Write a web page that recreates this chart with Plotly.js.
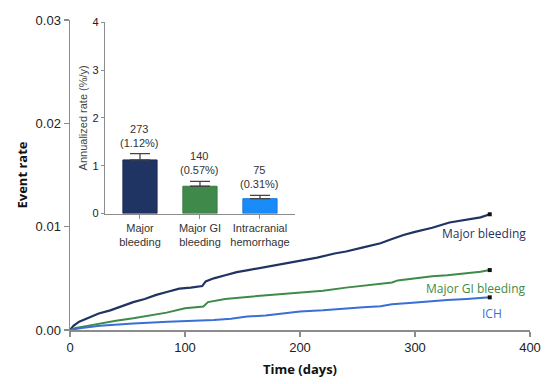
<!DOCTYPE html>
<html>
<head>
<meta charset="utf-8">
<script src="https://cdn.plot.ly/plotly-3.0.1.min.js"></script>
<style>html,body{margin:0;padding:0;background:#fff;}#chart{width:550px;height:384px;}</style>
</head>
<body>
<div id="chart"></div>
<script>
// Cumulative event rate curves
const majorDays = [0,3,8,15,25,35,45,55,65,75,85,95,105,115,118,125,135,145,155,165,175,185,200,215,230,240,255,270,280,290,300,315,330,345,357,365];
const majorRate = [0,0.0004,0.0008,0.0011,0.0016,0.0019,0.0023,0.0027,0.0030,0.0034,0.0037,0.0040,0.0041,0.00425,0.0047,0.0050,0.0053,0.0056,0.0058,0.0060,0.0062,0.0064,0.0067,0.0070,0.0074,0.0076,0.0080,0.0084,0.0088,0.0092,0.0095,0.0099,0.0104,0.0107,0.0109,0.0112];
const giDays = [0,5,15,26,40,55,70,84,100,113,116,120,135,154,175,200,220,240,255,270,280,285,300,315,328,345,357,365];
const giRate = [0,0.0002,0.0004,0.00064,0.0009,0.00113,0.0014,0.00168,0.0021,0.00222,0.00228,0.0027,0.0030,0.0032,0.0034,0.0036,0.0038,0.0041,0.0043,0.00445,0.0046,0.0048,0.0050,0.0052,0.0053,0.0055,0.00563,0.0058];
const ichDays = [0,10,26,55,85,113,125,140,154,170,183,200,220,240,255,270,280,298,315,328,345,357,365];
const ichRate = [0,0.0002,0.0004,0.00064,0.0008,0.00087,0.00097,0.0011,0.0013,0.0014,0.00155,0.0018,0.0019,0.0021,0.0022,0.0023,0.0025,0.00264,0.0028,0.0029,0.0030,0.00306,0.00316];

// Inset: annualized rates
const barCats = ["Major<br>bleeding","Major GI<br>bleeding","Intracranial<br>hemorrhage"];
const barRate = [1.12,0.57,0.31];
const barErr = [0.13,0.10,0.07];
const barCount = [273,140,75];
const barPct = ["(1.12%)","(0.57%)","(0.31%)"];

const cNavy = "#1f3463", cGreen = "#3e8b48", cBlue = "#3a6fd4", cBarBlue = "#1a8cfa";

const last = a => a[a.length-1];

const traces = [
  {x: majorDays, y: majorRate, type: "scatter", mode: "lines", line: {color: cNavy, width: 2.2}, hoverinfo: "skip"},
  {x: giDays, y: giRate, type: "scatter", mode: "lines", line: {color: cGreen, width: 2}, hoverinfo: "skip"},
  {x: ichDays, y: ichRate, type: "scatter", mode: "lines", line: {color: cBlue, width: 2}, hoverinfo: "skip"},
  {x: [last(majorDays), last(giDays), last(ichDays)], y: [last(majorRate), last(giRate), last(ichRate)],
   type: "scatter", mode: "markers", marker: {color: "#111", size: 4, symbol: "square"}, hoverinfo: "skip"},
  {x: barCats, y: barRate, type: "bar", xaxis: "x2", yaxis: "y2", width: 0.57,
   marker: {color: [cNavy, "#3f8a4b", cBarBlue], line: {color: ["#1a2b52","#357a40","#1479e0"], width: 1}},
   error_y: {type: "data", array: barErr, symmetric: false, arrayminus: [0,0,0], color: "#444", thickness: 1.3, width: 10},
   hoverinfo: "skip"}
];

const annotations = [
  {x: 398, y: 0.00937, xref: "x", yref: "y", text: "Major bleeding", showarrow: false, xanchor: "right", yanchor: "middle", font: {family: "Open Sans, sans-serif", size: 12, color: cNavy}},
  {x: 398, y: 0.00406, xref: "x", yref: "y", text: "Major GI bleeding", showarrow: false, xanchor: "right", yanchor: "middle", font: {family: "Open Sans, sans-serif", size: 12, color: cGreen}},
  {x: 367, y: 0.00164, xref: "x", yref: "y", text: "ICH", showarrow: false, xanchor: "center", yanchor: "middle", font: {family: "Open Sans, sans-serif", size: 12, color: cBlue}}
];
barCats.forEach((c, i) => {
  annotations.push({x: c, y: barRate[i] + barErr[i], xref: "x2", yref: "y2", text: barCount[i] + "<br>" + barPct[i],
    showarrow: false, xanchor: "center", yanchor: "bottom", yshift: 3,
    font: {family: "Liberation Sans, Arial, sans-serif", size: 11, color: "#333"}});
});

const layout = {
  width: 550, height: 384,
  margin: {l: 70, r: 20, t: 20, b: 54},
  paper_bgcolor: "#fff", plot_bgcolor: "rgba(0,0,0,0)",
  showlegend: false,
  xaxis: {range: [0, 400], tickvals: [0,100,200,300,400], showgrid: false, zeroline: false,
    showline: true, linecolor: "#8c8c8c", linewidth: 1.5, ticks: "outside", ticklen: 5, tickcolor: "#8c8c8c", tickwidth: 1.5,
    tickfont: {family: "Liberation Sans, Arial, sans-serif", size: 13, color: "#222"},
    title: {text: "Time (days)", font: {family: "Open Sans, sans-serif", size: 13, color: "#111", weight: "bold"}, standoff: 11}},
  yaxis: {range: [0, 0.03], tickvals: [0, 0.01, 0.02, 0.03], ticktext: ["0.00","0.01","0.02","0.03"], showgrid: false, zeroline: false,
    showline: true, linecolor: "#8c8c8c", linewidth: 1.5, ticks: "outside", ticklen: 5, tickcolor: "#8c8c8c", tickwidth: 1.5,
    tickfont: {family: "Liberation Sans, Arial, sans-serif", size: 13, color: "#222"},
    title: {text: "Event rate", font: {family: "Open Sans, sans-serif", size: 13, color: "#111", weight: "bold"}, standoff: 5}},
  xaxis2: {domain: [0.0761, 0.489], anchor: "y2", range: [-0.583, 2.583], showgrid: false, zeroline: false,
    showline: true, linecolor: "#8c8c8c", linewidth: 1.3, ticks: "outside", ticklen: 4, tickcolor: "#8c8c8c",
    tickfont: {family: "Liberation Sans, Arial, sans-serif", size: 11, color: "#333"}, fixedrange: true},
  yaxis2: {domain: [0.3758, 0.993], anchor: "x2", range: [0, 4], tickvals: [0,1,2,3,4], showgrid: false, zeroline: false,
    showline: true, linecolor: "#8c8c8c", linewidth: 1.3, ticks: "outside", ticklen: 3, tickcolor: "#8c8c8c",
    tickfont: {family: "Liberation Sans, Arial, sans-serif", size: 11, color: "#222"},
    title: {text: "Annualized rate (%/y)", font: {family: "Liberation Sans, Arial, sans-serif", size: 11, color: "#444"}, standoff: 2}},
  annotations: annotations
};

Plotly.newPlot("chart", traces, layout, {staticPlot: true, displayModeBar: false});
</script>
</body>
</html>
